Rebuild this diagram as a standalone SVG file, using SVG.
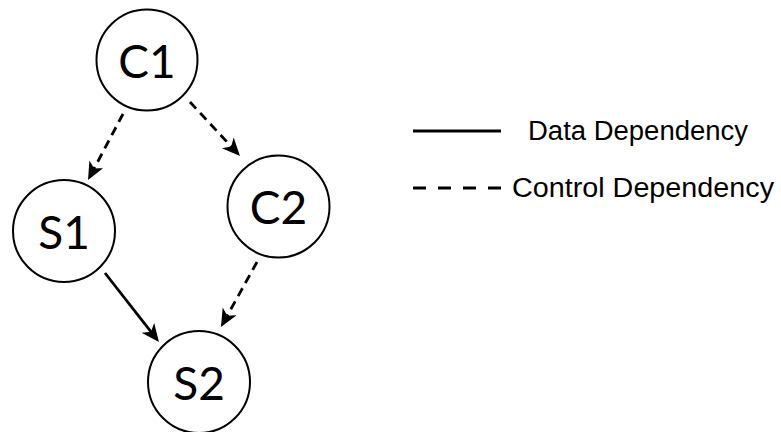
<svg xmlns="http://www.w3.org/2000/svg" width="781" height="432" viewBox="0 0 781 432">
<defs>
<style>
.node circle{fill:#fff;stroke:#000;stroke-width:2}
.node text{font-family:Lato,"Open Sans",sans-serif;font-size:46px;fill:#000;text-anchor:middle;dominant-baseline:central}
.edge{fill:none;stroke:#000;stroke-width:2.8;marker-end:url(#arr)}
.dash{stroke-dasharray:9 6}
.leg{font-family:"Liberation Sans",Arial,sans-serif;font-size:27px;fill:#000}
</style>
<marker id="arr" markerUnits="userSpaceOnUse" markerWidth="21" markerHeight="18" refX="14" refY="8" orient="auto">
<path d="M0,0 L18,8 L0,16 L5,8 z" fill="#000"/>
</marker>
</defs>
<rect width="781" height="432" fill="#fff"/>
<g id="connectors">
<line class="edge dash" x1="123" y1="114" x2="89.9" y2="176.5"/>
<line class="edge dash" x1="190" y1="102" x2="237.3" y2="153.1"/>
<line class="edge" x1="105" y1="273" x2="156.5" y2="338.9"/>
<line class="edge dash" x1="257" y1="262" x2="222.9" y2="323.5"/>
</g>
<g id="C1" class="node"><circle cx="147" cy="60" r="50.5"/><text x="147" y="60">C1</text></g>
<g id="S1" class="node"><circle cx="64" cy="231" r="51"/><text x="64" y="231">S1</text></g>
<g id="C2" class="node"><circle cx="278.5" cy="206.5" r="51"/><text x="278.5" y="206.5">C2</text></g>
<g id="S2" class="node"><circle cx="199" cy="382" r="51"/><text x="199" y="382">S2</text></g>
<g id="legend">
<line x1="413" y1="131" x2="501" y2="131" stroke="#000" stroke-width="2.8"/>
<line x1="413" y1="188" x2="501" y2="188" stroke="#000" stroke-width="2.8" stroke-dasharray="13 12"/>
<text class="leg" x="528" y="140" textLength="220" lengthAdjust="spacingAndGlyphs">Data Dependency</text>
<text class="leg" x="512" y="197" textLength="262" lengthAdjust="spacingAndGlyphs">Control Dependency</text>
</g>
</svg>
